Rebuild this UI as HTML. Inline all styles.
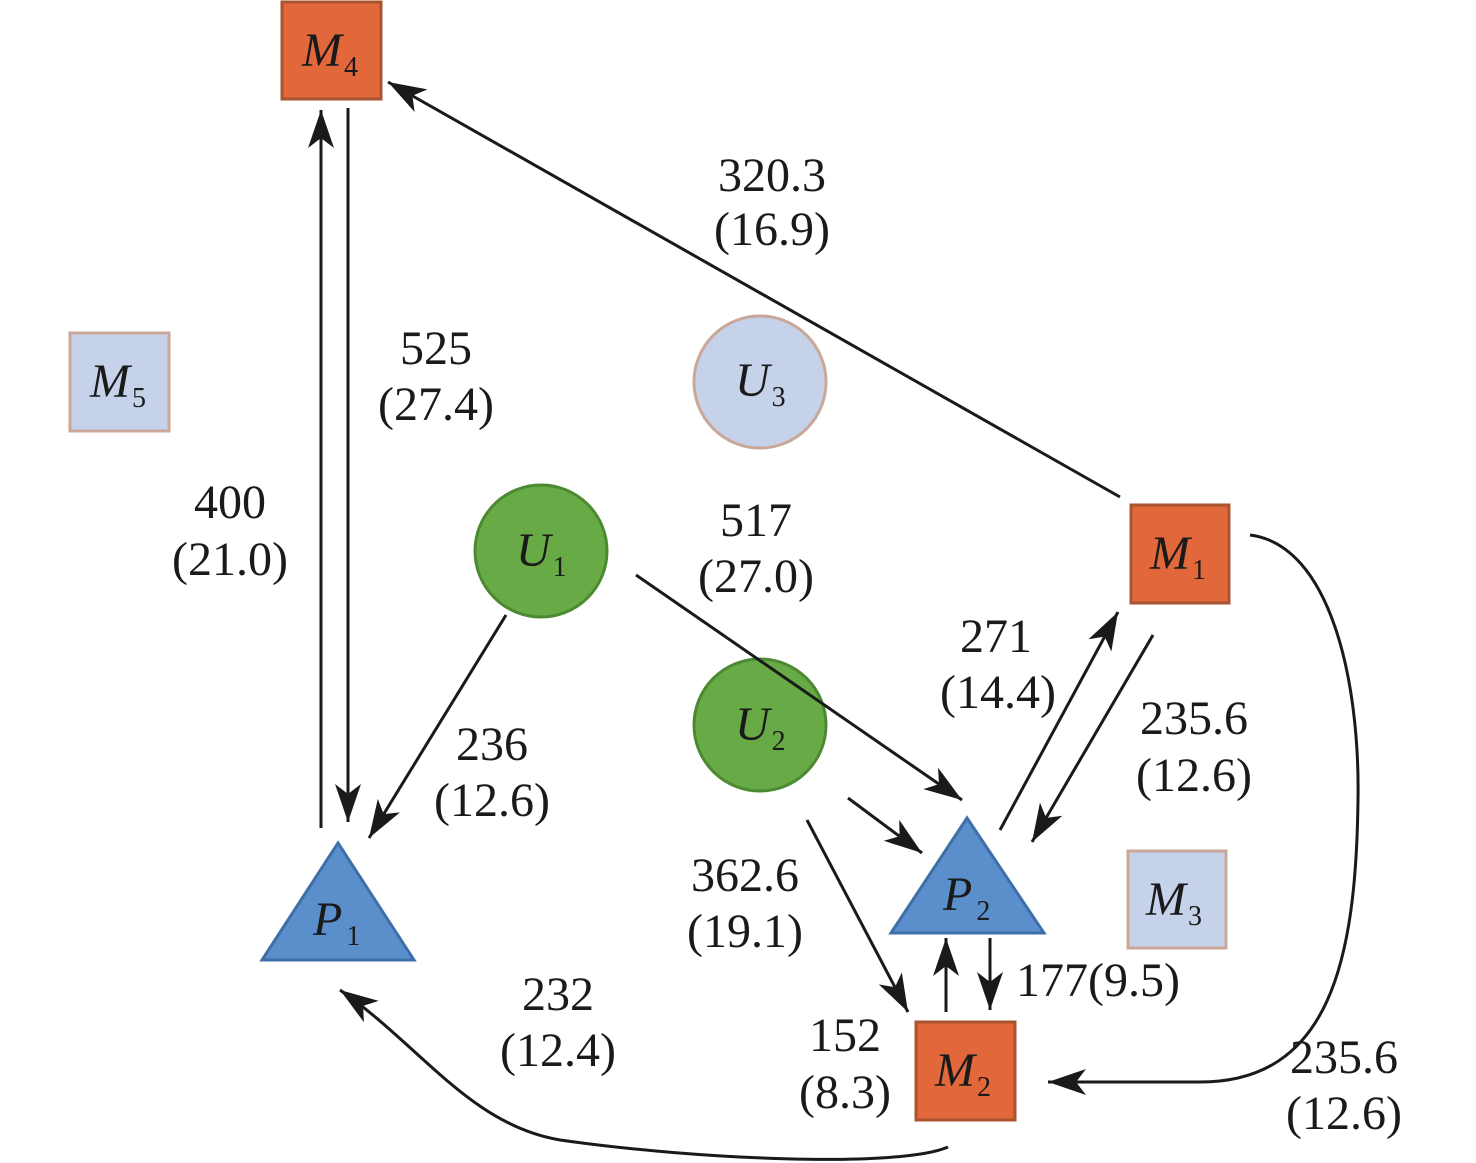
<!DOCTYPE html>
<html><head><meta charset="utf-8"><style>
html,body{margin:0;padding:0;background:#fff;}
svg{display:block;}
.t{font-family:"Liberation Serif","Times New Roman",serif;fill:#1a1a1a;}
.l{font-size:48px;text-anchor:middle;}
.n{font-size:48px;font-style:italic;}
.s{font-size:28px;font-style:normal;}
</style></head><body>
<svg width="1476" height="1163" viewBox="0 0 1476 1163">
<defs>
<marker id="h" viewBox="0 0 40 30" refX="38" refY="15" markerWidth="40" markerHeight="30" markerUnits="userSpaceOnUse" orient="auto">
<path d="M0,2 L38,15 L0,28 L10,15 Z" fill="#1a1a1a"/>
</marker>
</defs>
<rect x="282" y="2" width="99" height="97" fill="#e2673a" stroke="#a8552f" stroke-width="3"/>
<rect x="70" y="333" width="99" height="98" fill="#c5d2ea" stroke="#c9a89a" stroke-width="3"/>
<circle cx="760" cy="382" r="66" fill="#c5d2ea" stroke="#c9a89a" stroke-width="3"/>
<circle cx="541" cy="551" r="66" fill="#68ab46" stroke="#4b8a32" stroke-width="3"/>
<circle cx="760" cy="725" r="66" fill="#68ab46" stroke="#4b8a32" stroke-width="3"/>
<rect x="1131" y="505" width="98" height="98" fill="#e2673a" stroke="#a8552f" stroke-width="3"/>
<rect x="1128" y="851" width="98" height="97" fill="#c5d2ea" stroke="#c9a89a" stroke-width="3"/>
<rect x="916" y="1022" width="99" height="98" fill="#e2673a" stroke="#a8552f" stroke-width="3"/>
<polygon points="338,843 414,960 262,960" fill="#5b8fcb" stroke="#3f6fa8" stroke-width="3"/>
<polygon points="967,818 1044,933 891,933" fill="#5b8fcb" stroke="#3f6fa8" stroke-width="3"/>
<g stroke="#1a1a1a" stroke-width="3" fill="none" marker-end="url(#h)">
<line x1="321" y1="828" x2="321" y2="110"/>
<line x1="348" y1="108" x2="348" y2="822"/>
<line x1="1120" y1="497" x2="388" y2="82"/>
<line x1="506" y1="615" x2="369" y2="838"/>
<line x1="636" y1="575" x2="962" y2="800"/>
<line x1="848" y1="798" x2="922" y2="853"/>
<line x1="807" y1="820" x2="908" y2="1012"/>
<line x1="1000" y1="830" x2="1118" y2="612"/>
<line x1="1153" y1="635" x2="1032" y2="842"/>
<line x1="946" y1="1012" x2="946" y2="938"/>
<line x1="990" y1="938" x2="990" y2="1010"/>
<path d="M1250,535 C1330,545 1360,680 1358,800 C1356,960 1330,1082 1200,1082 L1048,1082"/>
<path d="M948,1147 C900,1168 700,1160 560,1140 C470,1125 420,1045 340,990"/>
</g>
<g class="t">
<text class="t n" x="302" y="66">M<tspan class="s" dx="2" dy="10">4</tspan></text>
<text class="t n" x="90" y="397">M<tspan class="s" dx="2" dy="10">5</tspan></text>
<text class="t n" x="735" y="396">U<tspan class="s" dx="2" dy="10">3</tspan></text>
<text class="t n" x="516" y="566">U<tspan class="s" dx="2" dy="10">1</tspan></text>
<text class="t n" x="735" y="740">U<tspan class="s" dx="2" dy="10">2</tspan></text>
<text class="t n" x="1150" y="569">M<tspan class="s" dx="2" dy="10">1</tspan></text>
<text class="t n" x="1146" y="915">M<tspan class="s" dx="2" dy="10">3</tspan></text>
<text class="t n" x="935" y="1086">M<tspan class="s" dx="2" dy="10">2</tspan></text>
<text class="t n" x="313" y="935">P<tspan class="s" dx="4" dy="10">1</tspan></text>
<text class="t n" x="943" y="910">P<tspan class="s" dx="4" dy="10">2</tspan></text>
<text class="t l" x="772" y="191">320.3</text><text class="t l" x="772" y="245">(16.9)</text>
<text class="t l" x="436" y="364">525</text><text class="t l" x="436" y="420">(27.4)</text>
<text class="t l" x="230" y="518">400</text><text class="t l" x="230" y="575">(21.0)</text>
<text class="t l" x="756" y="536">517</text><text class="t l" x="756" y="592">(27.0)</text>
<text class="t l" x="996" y="652">271</text><text class="t l" x="998" y="708">(14.4)</text>
<text class="t l" x="1194" y="734">235.6</text><text class="t l" x="1194" y="791">(12.6)</text>
<text class="t l" x="492" y="760">236</text><text class="t l" x="492" y="816">(12.6)</text>
<text class="t l" x="745" y="891">362.6</text><text class="t l" x="745" y="947">(19.1)</text>
<text class="t l" x="1098" y="996">177(9.5)</text>
<text class="t l" x="558" y="1010">232</text><text class="t l" x="558" y="1066">(12.4)</text>
<text class="t l" x="845" y="1051">152</text><text class="t l" x="845" y="1108">(8.3)</text>
<text class="t l" x="1344" y="1073">235.6</text><text class="t l" x="1344" y="1129">(12.6)</text>
</g>
</svg>
</body></html>
